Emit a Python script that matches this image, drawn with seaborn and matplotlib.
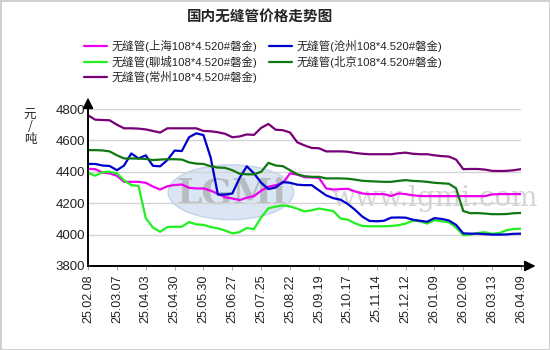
import numpy as np
import pandas as pd
import matplotlib
matplotlib.use("Agg")
import matplotlib.pyplot as plt
import seaborn as sns
from matplotlib.patches import Ellipse

title = "国内无缝管价格走势图"
tick_labels = ["25.02.08", "25.03.07", "25.04.03", "25.04.30", "25.05.30", "25.06.27",
               "25.07.25", "25.08.22", "25.09.19", "25.10.17", "25.11.14", "25.12.12",
               "26.01.09", "26.02.06", "26.03.13", "26.04.09"]
series_names = ["无缝管(上海108*4.520#磐金)", "无缝管(聊城108*4.520#磐金)",
                "无缝管(常州108*4.520#磐金)", "无缝管(沧州108*4.520#磐金)",
                "无缝管(北京108*4.520#磐金)"]

shanghai = [4419, 4417, 4395, 4390, 4375, 4336, 4336, 4336, 4330, 4306, 4287, 4308, 4316,
            4319, 4298, 4294, 4294, 4280, 4260, 4238, 4230, 4220, 4235, 4245, 4280, 4305,
            4315, 4328, 4390, 4382, 4366, 4364, 4362, 4294, 4287, 4290, 4292, 4275, 4262,
            4258, 4258, 4258, 4246, 4262, 4258, 4250, 4246, 4245, 4245, 4245, 4245, 4245,
            4245, 4245, 4245, 4245, 4256, 4258, 4258, 4258, 4258]
liaocheng = [4394, 4375, 4398, 4400, 4390, 4345, 4315, 4310, 4105, 4045, 4018, 4048, 4050,
             4050, 4080, 4065, 4062, 4048, 4040, 4026, 4008, 4016, 4042, 4035, 4110, 4168,
             4178, 4186, 4180, 4165, 4148, 4155, 4166, 4158, 4150, 4102, 4095, 4072, 4055,
             4053, 4053, 4053, 4055, 4060, 4070, 4088, 4085, 4070, 4092, 4085, 4078, 4045,
             3996, 4000, 4010, 4015, 4005, 4010, 4028, 4036, 4038]
changzhou = [4760, 4732, 4730, 4728, 4700, 4677, 4677, 4675, 4670, 4660, 4650, 4677, 4677,
             4677, 4677, 4677, 4660, 4658, 4652, 4642, 4620, 4625, 4638, 4635, 4680, 4705,
             4668, 4665, 4650, 4588, 4568, 4552, 4550, 4530, 4530, 4530, 4528, 4520, 4515,
             4512, 4512, 4512, 4512, 4518, 4522, 4515, 4512, 4512, 4505, 4500, 4497, 4478,
             4417, 4418, 4418, 4414, 4406, 4405, 4406, 4410, 4417]
cangzhou = [4450, 4450, 4440, 4437, 4410, 4440, 4517, 4485, 4505, 4438, 4435, 4475, 4535,
            4532, 4620, 4645, 4634, 4490, 4255, 4255, 4262, 4360, 4435, 4390, 4330, 4290,
            4300, 4335, 4330, 4318, 4315, 4315, 4282, 4250, 4232, 4222, 4195, 4158, 4115,
            4087, 4085, 4088, 4108, 4109, 4108, 4095, 4088, 4082, 4105, 4100, 4090, 4062,
            4008, 4006, 4006, 4003, 4000, 4000, 4001, 4005, 4006]
beijing = [4538, 4538, 4536, 4530, 4505, 4485, 4485, 4484, 4482, 4475, 4478, 4480, 4480,
           4478, 4460, 4452, 4450, 4435, 4427, 4425, 4410, 4388, 4384, 4384, 4400, 4457,
           4440, 4436, 4410, 4384, 4372, 4368, 4368, 4358, 4358, 4358, 4356, 4350, 4343,
           4340, 4338, 4336, 4336, 4342, 4347, 4342, 4340, 4336, 4330, 4327, 4324, 4295,
           4150, 4136, 4137, 4134, 4130, 4130, 4131, 4136, 4138]

colors = ["#ee00ee", "#22ee22", "#770077", "#0000cc", "#117711"]

all_vals = [shanghai, liaocheng, changzhou, cangzhou, beijing]
frames = []
for name, vals in zip(series_names, all_vals):
    frames.append(pd.DataFrame({"idx": np.arange(len(vals)), "price": vals, "series": name}))
df = pd.concat(frames, ignore_index=True)

sns.set_theme(style="white")
plt.rcParams["font.family"] = ["Liberation Sans", "Noto Sans CJK SC", "DejaVu Sans"]

fig = plt.figure(figsize=(5.5, 3.5), dpi=100)
fig.patch.set_facecolor("white")
fig.patch.set_edgecolor("#d0d0d0")
fig.patch.set_linewidth(2)

ax = fig.add_axes([88 / 550, 1 - 266 / 350, (521 - 88) / 550, (266 - 109) / 350])

# watermark
ax.add_patch(Ellipse((0.33, 0.47), 0.29, 0.35, transform=ax.transAxes,
                     facecolor="#c4d6ee", edgecolor="#a8c0e0", alpha=0.6, zorder=0))
ax.text(0.33, 0.46, "LGMi", transform=ax.transAxes, ha="center", va="center",
        fontsize=26, fontweight="bold", color="#a0a0a0", alpha=0.6, zorder=0,
        family="DejaVu Serif")
ax.text(0.80, 0.43, "www.lgmi.com", transform=ax.transAxes, ha="center", va="center",
        fontsize=20, color="#b8b8b8", alpha=0.6, zorder=0, family="DejaVu Serif")

sns.lineplot(data=df, x="idx", y="price", hue="series", hue_order=series_names,
             palette=dict(zip(series_names, colors)), linewidth=1.6, ax=ax, legend=False,
             zorder=3)

ax.set_xlim(0, 60)
ax.set_ylim(3800, 4800)
ax.set_yticks(np.arange(3800, 4801, 200))
ax.set_xticks(np.arange(0, 61, 4))
ax.set_xticklabels(tick_labels, rotation=90, fontsize=9, color="#222222")
ax.tick_params(axis="y", labelsize=9.5, length=0, pad=2, labelcolor="#222222")
ax.tick_params(axis="x", length=3, width=0.8, color="#aaaaaa", pad=3, bottom=True)
ax.set_xlabel("")
ax.set_ylabel("")
ax.yaxis.grid(True, color="#d4d4d4", linewidth=1)
ax.xaxis.grid(False)
for s in ["top", "right"]:
    ax.spines[s].set_visible(False)
for s in ["left", "bottom"]:
    ax.spines[s].set_color("black")
    ax.spines[s].set_linewidth(1.2)

ax.annotate("", xy=(1.04, 0), xytext=(0, 0), xycoords="axes fraction",
            arrowprops=dict(arrowstyle="-|>", color="black", lw=1.2, mutation_scale=16),
            annotation_clip=False)
ax.annotate("", xy=(0, 1.09), xytext=(0, 0), xycoords="axes fraction",
            arrowprops=dict(arrowstyle="-|>", color="black", lw=1.2, mutation_scale=16),
            annotation_clip=False)

fig.text(260 / 550, 1 - 17 / 350, title, ha="center", va="center", fontsize=10.5,
         fontweight="bold", family=["Noto Sans CJK SC", "DejaVu Sans"])
fig.text(30 / 550, 1 - 127 / 350, "元\n/\n吨", ha="center", va="center", fontsize=9,
         linespacing=0.9, family=["Noto Sans CJK SC", "DejaVu Sans"])

handles = ax.get_lines()[:5]
fig.legend(handles, series_names, loc="upper left", bbox_to_anchor=(84 / 550, 1 - 40 / 350),
           ncol=2, frameon=False, handlelength=2.0, handletextpad=0.45,
           columnspacing=1.0, labelspacing=0.3, borderpad=0, borderaxespad=0,
           prop={"family": ["Liberation Sans", "Noto Sans CJK SC"], "size": 8.2})

fig.savefig("out.png", dpi=100)
